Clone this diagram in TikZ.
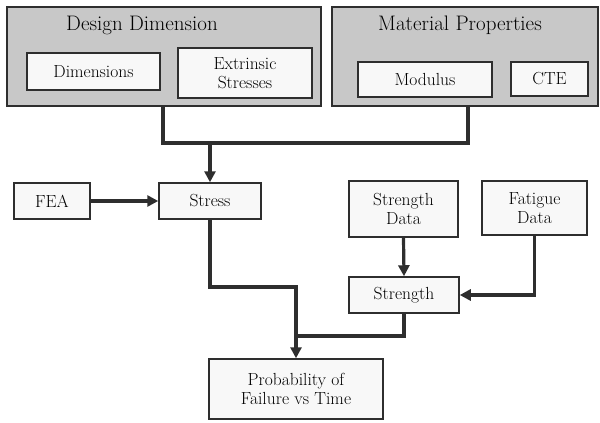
\documentclass[tikz,border=0pt]{standalone}
\usetikzlibrary{arrows.meta}
\definecolor{grp}{HTML}{C8C8C8}
\definecolor{boxf}{HTML}{F8F8F8}
\definecolor{ln}{HTML}{2E2E2E}
\begin{document}
\begin{tikzpicture}[x=1pt,y=-1pt,
  group/.style={draw=ln,line width=1.8pt,fill=grp,rectangle,inner sep=0pt},
  box/.style={draw=ln,line width=1.5pt,fill=boxf,rectangle,inner sep=0pt,align=center,font=\fontsize{17.5}{19}\selectfont},
  ttl/.style={font=\fontsize{21}{23}\selectfont,inner sep=0pt},
  conn/.style={draw=ln,line width=3.2pt},
  arr/.style={conn,-{Triangle[length=11pt,width=11pt]}}]
\useasboundingbox (0,0) rectangle (600,423);
% groups
\node[group,minimum width=314pt,minimum height=99pt] (dd) at (164,56.5) {};
\node[group,minimum width=266pt,minimum height=99pt] (mp) at (465,56.5) {};
\node[ttl] (ddt) at (142,25) {Design Dimension};
\node[ttl] (mpt) at (460,25) {Material Properties};
% inner boxes
\node[box,minimum width=133pt,minimum height=37pt] (dim) at (93.5,71.5) {Dimensions};
\node[box,minimum width=134pt,minimum height=50pt] (ext) at (245,73) {Extrinsic\\Stresses};
\node[box,minimum width=134pt,minimum height=35pt] (mod) at (425,79.5) {Modulus};
\node[box,minimum width=77pt,minimum height=34pt] (cte) at (549.5,79) {CTE};
% lower boxes
\node[box,minimum width=76pt,minimum height=36pt] (fea) at (52,201) {FEA};
\node[box,minimum width=102pt,minimum height=36pt] (stress) at (210,201) {Stress};
\node[box,minimum width=109pt,minimum height=56pt] (sdata) at (403.5,209) {Strength\\Data};
\node[box,minimum width=105pt,minimum height=54pt] (fdata) at (534.5,208) {Fatigue\\Data};
\node[box,minimum width=110pt,minimum height=36pt] (strength) at (404,295) {Strength};
\node[box,minimum width=174pt,minimum height=60pt] (prob) at (296,389) {Probability of\\Failure vs Time};
% junction coordinates
\coordinate (j1) at (163,143);
\coordinate (j2) at (468,143);
\coordinate (j3) at (210,143);
\coordinate (j4) at (296,287);
\coordinate (j5) at (296,336);
% connectors
\draw[conn] (dd.south -| j1) -- (j1) -- (j2) -- (mp.south -| j2);
\draw[arr] (j3) -- (stress.north);
\draw[arr] (fea.east) -- (stress.west);
\draw[conn] (stress.south) |- (j4) -- (j5);
\draw[arr] (j5) -- (prob.north);
\draw[conn] (strength.south) |- (j5);
\draw[arr] (sdata.south) -- (strength.north);
\draw[arr] (fdata.south) |- (strength.east);
\end{tikzpicture}
\end{document}
